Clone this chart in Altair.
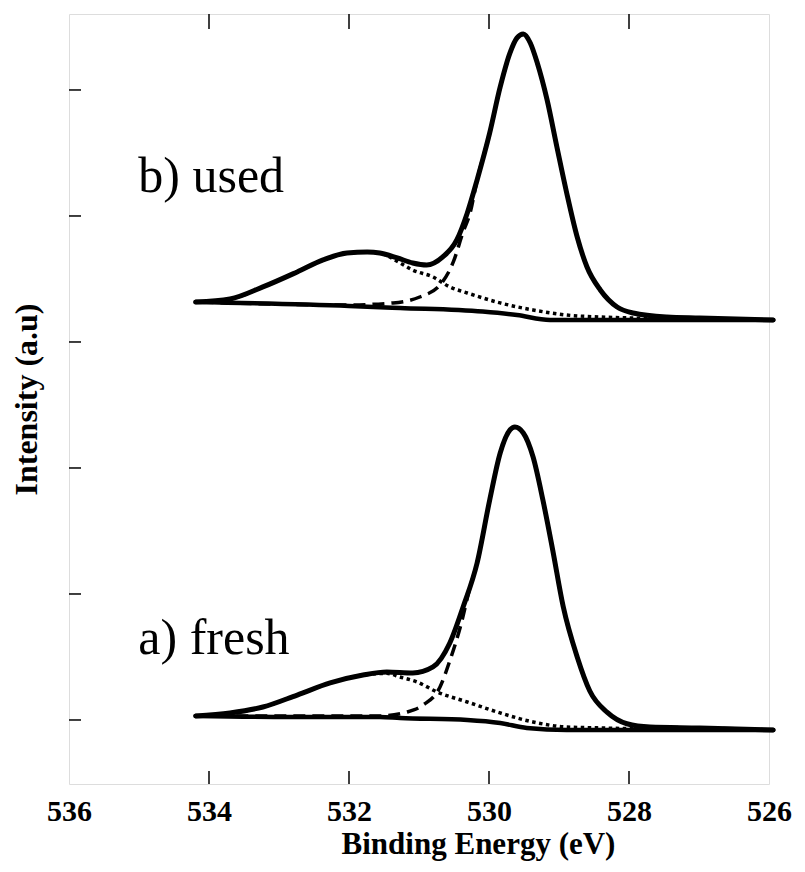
import altair as alt
import pandas as pd

# ---------------- data ----------------
# b) used
used_total_E = [534.19, 533.70, 533.23, 532.74, 532.37, 532.03, 531.74, 531.56, 531.31, 531.09,
                530.89, 530.66, 530.46, 530.31, 530.17, 529.99, 529.84, 529.70, 529.60, 529.51,
                529.41, 529.31, 529.17, 529.03, 528.89, 528.74, 528.60, 528.41, 528.17, 527.94,
                527.46, 526.99, 525.94]
used_total_I = [3.317, 3.341, 3.437, 3.556, 3.651, 3.706, 3.714, 3.706, 3.667, 3.627,
                3.611, 3.675, 3.810, 4.024, 4.286, 4.659, 5.024, 5.294, 5.413, 5.444,
                5.373, 5.214, 4.921, 4.548, 4.183, 3.833, 3.595, 3.413, 3.278, 3.230,
                3.198, 3.190, 3.175]

used_base_E = [534.19, 532.00, 531.27, 530.09, 529.60, 529.13, 527.94, 525.94]
used_base_I = [3.317, 3.286, 3.270, 3.241, 3.214, 3.175, 3.175, 3.175]

used_dot_E = [534.19, 533.70, 533.23, 532.74, 532.37, 532.03, 531.74, 531.56, 531.27, 531.09,
              530.80, 530.56, 530.31, 529.84, 529.37, 528.89, 528.41, 527.94, 527.46, 525.94]
used_dot_I = [3.317, 3.341, 3.437, 3.556, 3.651, 3.706, 3.714, 3.706, 3.627, 3.571,
              3.516, 3.437, 3.389, 3.310, 3.254, 3.214, 3.198, 3.190, 3.183, 3.175]

used_dash_E = [534.19, 532.00, 531.37, 530.99, 530.70, 530.51, 530.37, 530.27, 530.17, 529.99,
               529.84, 529.70, 529.60, 529.51, 529.41, 529.31, 529.17, 529.03, 528.89, 528.74,
               528.60, 528.41, 528.17, 527.94, 527.46, 526.99, 525.94]
used_dash_I = [3.317, 3.294, 3.310, 3.357, 3.452, 3.635, 3.873, 4.024, 4.286, 4.659,
               5.024, 5.294, 5.413, 5.444, 5.373, 5.214, 4.921, 4.548, 4.183, 3.833,
               3.595, 3.413, 3.278, 3.230, 3.198, 3.190, 3.175]

# a) fresh
fresh_total_E = [534.19, 533.70, 533.23, 532.74, 532.27, 531.80, 531.46, 531.09, 530.80, 530.56,
                 530.37, 530.17, 529.99, 529.84, 529.70, 529.63, 529.51, 529.37, 529.23, 529.09,
                 528.94, 528.74, 528.56, 528.31, 528.03, 527.70, 526.99, 525.94]
fresh_total_I = [0.032, 0.056, 0.103, 0.198, 0.294, 0.357, 0.381, 0.373, 0.421, 0.611,
                 0.897, 1.246, 1.746, 2.119, 2.302, 2.325, 2.278, 2.087, 1.746, 1.349,
                 0.900, 0.500, 0.230, 0.060, -0.030, -0.056, -0.063, -0.079]

fresh_base_E = [534.19, 532.99, 531.56, 531.27, 530.31, 529.84, 529.46, 528.89, 525.94]
fresh_base_I = [0.032, 0.024, 0.024, 0.016, 0.000, -0.024, -0.063, -0.079, -0.079]

fresh_dot_E = [534.19, 533.70, 533.23, 532.74, 532.27, 531.80, 531.46, 531.27, 531.03, 530.74,
               530.31, 529.84, 529.37, 528.89, 528.41, 527.46, 525.94]
fresh_dot_I = [0.032, 0.056, 0.103, 0.198, 0.294, 0.357, 0.370, 0.341, 0.302, 0.222,
               0.143, 0.056, -0.016, -0.056, -0.063, -0.075, -0.079]

fresh_dash_E = [534.19, 531.56, 531.17, 530.94, 530.70, 530.56, 530.41, 530.27, 530.17, 529.99,
                529.84, 529.70, 529.63, 529.51, 529.37, 529.23, 529.09, 528.94, 528.74, 528.56,
                528.31, 528.03, 527.70, 526.99, 525.94]
fresh_dash_I = [0.032, 0.032, 0.063, 0.119, 0.262, 0.470, 0.738, 1.056, 1.246, 1.746,
                2.119, 2.302, 2.325, 2.278, 2.087, 1.746, 1.349, 0.900, 0.500, 0.230,
                0.060, -0.030, -0.056, -0.063, -0.079]

x_tick_values = [536, 534, 532, 530, 528, 526]
inner_x_ticks = [534, 532, 530, 528]
y_tick_values = [0, 1, 2, 3, 4, 5]

label_text = ["b) used", "a) fresh"]
label_E = [535.01, 535.01]
label_I = [4.19, 0.52]

# ---------------- build tables ----------------
def frame(E, I, sample, comp):
    return pd.DataFrame({"E": E, "I": I, "sample": sample, "comp": comp})

df = pd.concat([
    frame(used_total_E, used_total_I, "used", "total"),
    frame(used_base_E, used_base_I, "used", "base"),
    frame(used_dot_E, used_dot_I, "used", "dot"),
    frame(used_dash_E, used_dash_I, "used", "dash"),
    frame(fresh_total_E, fresh_total_I, "fresh", "total"),
    frame(fresh_base_E, fresh_base_I, "fresh", "base"),
    frame(fresh_dot_E, fresh_dot_I, "fresh", "dot"),
    frame(fresh_dash_E, fresh_dash_I, "fresh", "dash"),
], ignore_index=True)

W, H = 700, 770
FONT = "Times New Roman, Liberation Serif, Tinos, DejaVu Serif, Noto Serif, serif"

xscale = alt.Scale(domain=[536, 526], nice=False, zero=False)
yscale = alt.Scale(domain=[-0.508, 5.603], nice=False, zero=False)

xenc = alt.X("E:Q", scale=xscale,
             axis=alt.Axis(values=x_tick_values, format="d", ticks=False, domain=False,
                           grid=False, labelFont=FONT, labelFontSize=30,
                           labelFontWeight="bold", labelColor="black", labelPadding=12,
                           labelFlush=False,
                           title="Binding Energy (eV)", titleFont=FONT, titleFontSize=31,
                           titleFontWeight="bold", titleColor="black", titlePadding=3,
                           titleX=409))
yenc = alt.Y("I:Q", scale=yscale,
             axis=alt.Axis(values=y_tick_values, ticks=False, labels=False, domain=False,
                           grid=False, title="Intensity (a.u)", titleFont=FONT,
                           titleFontSize=32, titleFontWeight="bold", titleColor="black",
                           titlePadding=26))

base = alt.Chart(df)

def comp_layer(comp, **mark):
    return base.transform_filter(alt.datum.comp == comp).mark_line(
        color="black", interpolate="monotone", **mark
    ).encode(x=xenc, y=yenc, detail="sample:N", order="E:Q")

baseline = comp_layer("base", strokeWidth=4.5, strokeCap="round")
dotted = comp_layer("dot", strokeWidth=3.5, strokeDash=[3.5, 3.5])
dashed = comp_layer("dash", strokeWidth=3.5, strokeDash=[12, 7])
total = comp_layer("total", strokeWidth=5, strokeCap="round", strokeJoin="round")

ydf = pd.DataFrame({"v": y_tick_values})
xdf = pd.DataFrame({"v": inner_x_ticks})

left_ticks = alt.Chart(ydf).mark_rule(color="black", strokeWidth=1.5).encode(
    y=alt.Y("v:Q", scale=yscale), x=alt.value(0), x2=alt.value(12))
bottom_ticks = alt.Chart(xdf).mark_rule(color="black", strokeWidth=1.5).encode(
    x=alt.X("v:Q", scale=xscale), y=alt.value(H), y2=alt.value(H - 13))
top_ticks = alt.Chart(xdf).mark_rule(color="black", strokeWidth=1.5).encode(
    x=alt.X("v:Q", scale=xscale), y=alt.value(0), y2=alt.value(15))

ldf = pd.DataFrame({"t": label_text, "E": label_E, "I": label_I})
labels = alt.Chart(ldf).mark_text(
    align="left", baseline="alphabetic", font=FONT, fontSize=50, color="black"
).encode(x=alt.X("E:Q", scale=xscale), y=alt.Y("I:Q", scale=yscale), text="t:N")

chart = alt.layer(
    baseline, dotted, dashed, total, left_ticks, bottom_ticks, top_ticks, labels
).properties(
    width=W, height=H,
    autosize=alt.AutoSizeParams(type="none"),
    padding={"left": 61, "top": 6, "right": 28, "bottom": 86},
).configure_view(stroke="black", strokeWidth=2.5).configure(background="white")

chart.save("out.html", embed_options={"renderer": "svg", "actions": False})
